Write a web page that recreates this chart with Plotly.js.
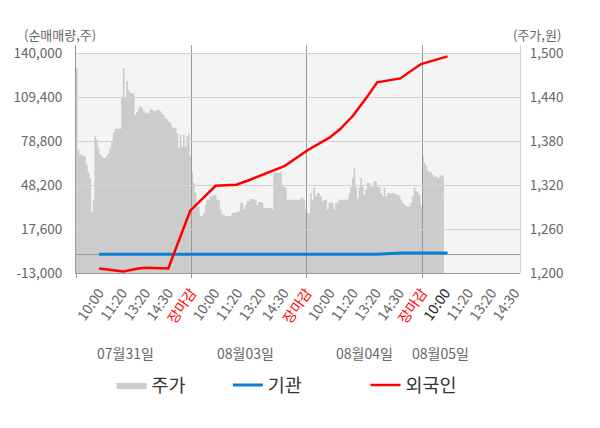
<!DOCTYPE html>
<html><head><meta charset="utf-8">
<script src="https://cdn.plot.ly/plotly-3.0.1.min.js"></script>
<style>html,body{margin:0;padding:0;background:#fff;}#chart{width:600px;height:428px;}</style>
</head><body><div id="chart"></div>
<script>
// ---- data ----
const dayNames = ['07월31일', '08월03일', '08월04일', '08월05일'];
const dayLabelPos = [2.13, 7.33, 12.52, 15.8];
const timeTicks = ['10:00', '11:20', '13:20', '14:30', '장마감'];

const priceDay1 = [1480,1368,1362,1362,1360,1359,1348,1337,1330,1283,
  1300,1387,1382,1370,1362,1359,1357,1357,1360,1364,
  1370,1380,1392,1397,1397,1397,1397,1439,1480,1440,
  1462,1450,1446,1446,1444,1416,1420,1425,1428,1426,
  1421,1419,1419,1418,1423,1423,1421,1421,1423,1423,
  1421,1418,1416,1412,1410,1407,1405,1400,1398,1398,
  1391,1371,1389,1373,1389,1373,1387,1391,1360];
const priceDay2 = [1337,1323,1310,1291,1291,1278,1278,1282,1293,1300,
  1300,1305,1305,1307,1307,1300,1300,1287,1280,1280,
  1278,1278,1278,1278,1282,1282,1282,1284,1284,1296,
  1296,1287,1293,1298,1298,1301,1301,1300,1300,1293,
  1297,1297,1296,1289,1289,1289,1289,1289,1287,1337,
  1337,1337,1337,1338,1320,1318,1317,1300,1300,1300,
  1300,1300,1300,1300,1300,1302,1302,1300,1287];
const priceDay3 = [1282,1282,1309,1300,1317,1305,1309,1309,1305,1298,
  1300,1300,1287,1296,1296,1296,1287,1296,1296,1300,
  1300,1300,1300,1300,1300,1309,1318,1330,1343,1318,
  1302,1317,1330,1318,1307,1314,1323,1323,1318,1318,
  1325,1325,1318,1318,1309,1305,1317,1305,1309,1309,
  1309,1309,1309,1307,1307,1305,1300,1296,1294,1291,
  1291,1291,1296,1305,1317,1312,1310,1307,1293];
const priceDay4 = [1360,1350,1346,1340,1338,1338,1334,1332,1332,1330,1332,1334,1332,1338];

const flowPos    = [1.0, 1.7, 2.05, 2.7, 3.05, 4.0, 4.95, 6.05, 6.95, 7.55, 8.4, 9.05, 10.0, 11.0, 11.45, 12.0, 12.6, 13.05, 14.05, 14.95, 16.1];
const foreignNet = [-9800, -11000, -11900, -9800, -9400, -9800, 30400, 47800, 48500, 52000, 57500, 61700, 72200, 81500, 87300, 96600, 109400, 119900, 122600, 132600, 138000];
const instNet    = [0, 0, 0, 0, 0, 0, 0, 0, 0, 0, 0, 0, 0, 0, 0, 0, 0, 0, 1000, 1000, 1000];

const leftTickVals  = [-13000, 17600, 48200, 78800, 109400, 140000];
const leftTickText  = ['-13,000', '17,600', '48,200', '78,800', '109,400', '140,000'];
const rightTickVals = [1200, 1260, 1320, 1380, 1440, 1500];
const rightTickText = ['1,200', '1,260', '1,320', '1,380', '1,440', '1,500'];

// ---- build ----
const FONT = '"Noto Sans CJK KR", "Noto Sans", sans-serif';
const DAY_W = 5, SLOTS = 69;
const XR = [0, 19.24];
const priceDays = [priceDay1, priceDay2, priceDay3, priceDay4];
const px = [], py = [];
priceDays.forEach((arr, d) => arr.forEach((v, i) => { px.push(d * DAY_W + i * DAY_W / SLOTS); py.push(v); }));

const tVals = [], tText = [];
for (let d = 0; d < dayNames.length; d++) {
  timeTicks.forEach((t, k) => {
    const pos = d * DAY_W + k + 1;
    if (pos > XR[1]) return;
    let txt = t;
    if (k === timeTicks.length - 1) txt = '<span style="color:#ff0000">' + t + '</span>';
    else if (d === dayNames.length - 1 && k === 0) txt = '<span style="color:#222222">' + t + '</span>';
    tVals.push(pos); tText.push(txt);
  });
}

const traces = [
  { type: 'scatter', x: px, y: py, xaxis: 'x', yaxis: 'y', mode: 'lines',
    line: { width: 0, shape: 'hv' }, fill: 'tozeroy', fillcolor: '#cccccc',
    name: '주가', legend: 'legend', hoverinfo: 'skip' },
  { type: 'scatter', x: flowPos, y: instNet, xaxis: 'x2', yaxis: 'y2', mode: 'lines',
    line: { color: '#0a80d0', width: 3 }, name: '기관', legend: 'legend2' },
  { type: 'scatter', x: flowPos, y: foreignNet, xaxis: 'x3', yaxis: 'y3', mode: 'lines',
    line: { color: '#ff0000', width: 2.5 }, name: '외국인', legend: 'legend3' }
];

const Y2R = [-13000, 145900];
const legendBase = { orientation: 'h', xanchor: 'left', yanchor: 'middle', y: -0.493,
  font: { family: FONT, size: 18.5, color: '#333' }, bgcolor: 'rgba(0,0,0,0)' };

const layout = {
  width: 600, height: 428,
  margin: { l: 76, r: 80, t: 45, b: 155 },
  paper_bgcolor: '#ffffff', plot_bgcolor: 'rgba(0,0,0,0)',
  font: { family: FONT, size: 13.5, color: '#666' },
  showlegend: true,
  xaxis: { range: XR, visible: false, fixedrange: true },
  yaxis: { range: [1200, 1511.6], side: 'right', anchor: 'x', tickvals: rightTickVals, ticktext: rightTickText,
    showgrid: false, zeroline: false, showline: true, linecolor: '#d4d4d4', ticks: '', ticklabelstandoff: 6,
    tickfont: { size: 13.5, color: '#666' } },
  xaxis2: { range: XR, anchor: 'y2', tickvals: [0, 5, 10, 15], showticklabels: false, ticks: 'outside',
    ticklen: 4, tickcolor: '#999', showgrid: true, gridcolor: '#999', gridwidth: 1,
    showline: true, linecolor: '#999', zeroline: false },
  xaxis3: { range: XR, overlaying: 'x2', anchor: 'y2', side: 'bottom', tickvals: tVals, ticktext: tText,
    ticks: '', showgrid: false, showline: false, zeroline: false, tickangle: -55,
    tickfont: { size: 14, color: '#666' }, ticklabelstandoff: 8 },
  yaxis2: { range: Y2R, anchor: 'x2', side: 'left', tickvals: leftTickVals, ticktext: leftTickText,
    showgrid: true, gridcolor: '#d2d2d2', gridwidth: 1,
    zeroline: true, zerolinecolor: '#999', zerolinewidth: 1,
    showline: true, linecolor: '#999', ticks: '', ticklabelstandoff: 10,
    tickfont: { size: 13.5, color: '#666' } },
  yaxis3: { range: Y2R, overlaying: 'y2', anchor: 'x2', side: 'left', visible: false,
    showgrid: false, zeroline: false, showline: false },
  legend: Object.assign({}, legendBase, { x: 0.08 }),
  legend2: Object.assign({}, legendBase, { x: 0.342 }),
  legend3: Object.assign({}, legendBase, { x: 0.652 }),
  shapes: [
    { type: 'rect', xref: 'paper', x0: 0, x1: 1, yref: 'y', y0: rightTickVals[0], y1: rightTickVals[rightTickVals.length - 1],
      fillcolor: '#f4f4f4', line: { width: 0 }, layer: 'below' }
  ],
  annotations: [
    { text: '(순매매량,주)', xref: 'paper', yref: 'paper', x: -0.035, y: 1.048, xanchor: 'center', yanchor: 'middle',
      showarrow: false, font: { size: 13, color: '#666' } },
    { text: '(주가,원)', xref: 'paper', yref: 'paper', x: 1.039, y: 1.048, xanchor: 'center', yanchor: 'middle',
      showarrow: false, font: { size: 13, color: '#666' } }
  ].concat(dayNames.map((n, i) => ({
    text: n, xref: 'x2', yref: 'paper', x: dayLabelPos[i], y: -0.351, xanchor: 'center', yanchor: 'middle',
    showarrow: false, font: { size: 14, color: '#666' } })))
};

Plotly.newPlot('chart', traces, layout, { staticPlot: true, displayModeBar: false });
</script>
</body></html>
